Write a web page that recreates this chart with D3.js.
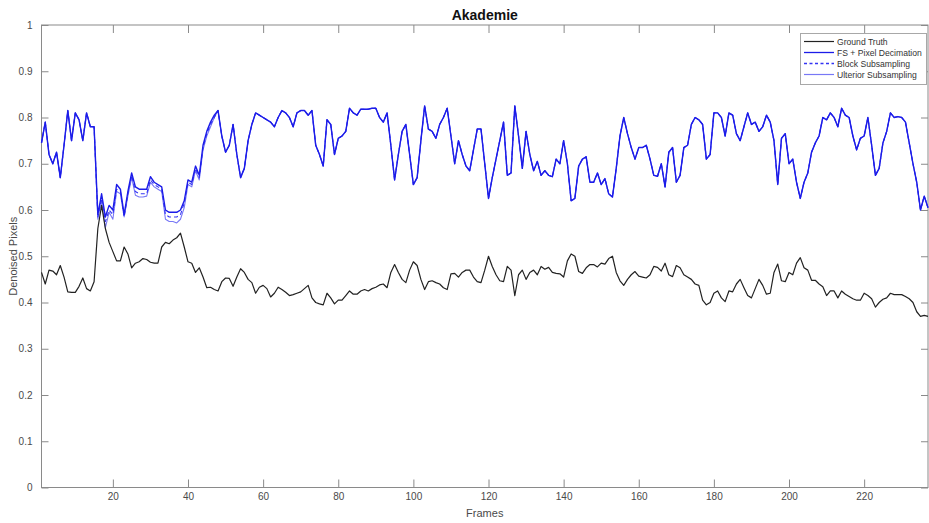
<!DOCTYPE html>
<html>
<head>
<meta charset="utf-8">
<script src="https://cdn.jsdelivr.net/npm/d3@7"></script>
<style>
  html, body { margin: 0; padding: 0; background: #fff; }
  svg { display: block; font-family: "Liberation Sans", Arial, Helvetica, sans-serif; }
</style>
</head>
<body>
<svg id="chart" width="929" height="523"></svg>
<script>
// ---------- data ----------
const chartTitle = "Akademie";
const xLabel = "Frames";
const yLabel = "Denoised Pixels";
const xTicks = [20, 40, 60, 80, 100, 120, 140, 160, 180, 200, 220];
const yTicks = [0, 0.1, 0.2, 0.3, 0.4, 0.5, 0.6, 0.7, 0.8, 0.9, 1];
const seriesNames = ["Ground Truth", "FS + Pixel Decimation", "Block Subsampling", "Ulterior Subsampling"];

const groundTruth = [
  0.465,0.44,0.47,0.468,0.46,0.48,0.455,0.423,0.422,0.422,
  0.435,0.453,0.43,0.425,0.445,0.56,0.61,0.56,0.53,0.51,
  0.49,0.49,0.52,0.505,0.475,0.485,0.488,0.495,0.493,0.487,
  0.485,0.485,0.52,0.53,0.527,0.535,0.54,0.55,0.52,0.488,
  0.485,0.465,0.475,0.455,0.432,0.433,0.428,0.425,0.445,0.453,
  0.452,0.435,0.455,0.473,0.465,0.45,0.443,0.42,0.433,0.437,
  0.43,0.412,0.42,0.433,0.428,0.422,0.415,0.417,0.42,0.423,
  0.43,0.437,0.41,0.40,0.397,0.395,0.42,0.41,0.397,0.405,
  0.405,0.415,0.425,0.418,0.418,0.425,0.428,0.425,0.43,0.433,
  0.438,0.44,0.432,0.465,0.482,0.465,0.45,0.443,0.47,0.488,
  0.48,0.45,0.428,0.445,0.447,0.443,0.44,0.432,0.428,0.462,
  0.463,0.455,0.465,0.47,0.47,0.455,0.445,0.443,0.47,0.50,
  0.478,0.46,0.447,0.445,0.478,0.47,0.415,0.46,0.47,0.45,
  0.465,0.47,0.46,0.478,0.472,0.476,0.465,0.463,0.462,0.455,
  0.49,0.505,0.50,0.467,0.463,0.475,0.482,0.482,0.477,0.485,
  0.483,0.495,0.50,0.465,0.447,0.437,0.45,0.46,0.467,0.457,
  0.455,0.453,0.46,0.478,0.476,0.468,0.485,0.46,0.456,0.48,
  0.475,0.46,0.455,0.45,0.44,0.437,0.405,0.395,0.40,0.42,
  0.425,0.41,0.402,0.425,0.423,0.44,0.45,0.432,0.415,0.41,
  0.43,0.45,0.437,0.418,0.42,0.465,0.483,0.447,0.445,0.465,
  0.46,0.485,0.497,0.475,0.47,0.448,0.448,0.44,0.434,0.415,
  0.425,0.425,0.41,0.425,0.418,0.413,0.408,0.405,0.405,0.42,
  0.415,0.408,0.39,0.40,0.407,0.41,0.42,0.417,0.417,0.417,
  0.413,0.408,0.40,0.38,0.37,0.372,0.37
];

const fsPixelDecimation = [
  0.745,0.79,0.72,0.70,0.725,0.67,0.74,0.815,0.75,0.81,
  0.795,0.75,0.81,0.78,0.78,0.59,0.635,0.585,0.61,0.60,
  0.655,0.645,0.59,0.64,0.68,0.65,0.645,0.645,0.645,0.672,
  0.66,0.655,0.65,0.60,0.595,0.595,0.595,0.60,0.62,0.665,
  0.66,0.695,0.675,0.74,0.77,0.79,0.805,0.815,0.76,0.725,
  0.74,0.785,0.72,0.67,0.69,0.75,0.785,0.81,0.805,0.80,
  0.795,0.79,0.78,0.80,0.815,0.81,0.80,0.78,0.81,0.815,
  0.815,0.805,0.815,0.74,0.72,0.695,0.795,0.785,0.72,0.755,
  0.76,0.77,0.82,0.81,0.805,0.818,0.818,0.818,0.82,0.82,
  0.80,0.79,0.81,0.74,0.665,0.72,0.77,0.785,0.72,0.655,
  0.67,0.75,0.825,0.775,0.77,0.755,0.785,0.80,0.82,0.76,
  0.70,0.75,0.72,0.695,0.685,0.73,0.775,0.775,0.70,0.625,
  0.67,0.71,0.75,0.79,0.675,0.68,0.825,0.76,0.69,0.77,
  0.72,0.685,0.705,0.675,0.685,0.675,0.672,0.71,0.70,0.75,
  0.70,0.62,0.625,0.695,0.71,0.715,0.66,0.66,0.68,0.655,
  0.668,0.635,0.628,0.69,0.76,0.80,0.765,0.735,0.71,0.735,
  0.735,0.74,0.71,0.675,0.673,0.70,0.65,0.725,0.735,0.66,
  0.675,0.735,0.74,0.785,0.80,0.795,0.785,0.71,0.72,0.81,
  0.81,0.80,0.76,0.81,0.805,0.765,0.75,0.78,0.81,0.785,
  0.79,0.77,0.78,0.805,0.79,0.75,0.655,0.755,0.765,0.70,
  0.71,0.66,0.625,0.66,0.68,0.725,0.745,0.76,0.80,0.795,
  0.81,0.80,0.78,0.82,0.805,0.80,0.76,0.73,0.755,0.76,
  0.80,0.74,0.675,0.69,0.745,0.77,0.81,0.80,0.802,0.80,
  0.79,0.745,0.70,0.66,0.60,0.63,0.605
];

const blockSubsampling = [
  0.745,0.79,0.72,0.70,0.725,0.67,0.74,0.815,0.75,0.81,
  0.795,0.75,0.81,0.78,0.78,0.585,0.625,0.575,0.60,0.59,
  0.645,0.64,0.585,0.635,0.675,0.64,0.635,0.635,0.635,0.665,
  0.655,0.65,0.645,0.59,0.585,0.585,0.585,0.59,0.615,0.66,
  0.655,0.69,0.67,0.735,0.765,0.785,0.80,0.815,0.76,0.725,
  0.74,0.785,0.72,0.67,0.69,0.75,0.785,0.81,0.805,0.80,
  0.795,0.79,0.78,0.80,0.815,0.81,0.80,0.78,0.81,0.815,
  0.815,0.805,0.815,0.74,0.72,0.695,0.795,0.785,0.72,0.755,
  0.76,0.77,0.82,0.81,0.805,0.818,0.818,0.818,0.82,0.82,
  0.80,0.79,0.81,0.74,0.665,0.72,0.77,0.785,0.72,0.655,
  0.67,0.75,0.825,0.775,0.77,0.755,0.785,0.80,0.82,0.76,
  0.70,0.75,0.72,0.695,0.685,0.73,0.775,0.775,0.70,0.625,
  0.67,0.71,0.75,0.79,0.675,0.68,0.825,0.76,0.69,0.77,
  0.72,0.685,0.705,0.675,0.685,0.675,0.672,0.71,0.70,0.75,
  0.70,0.62,0.625,0.695,0.71,0.715,0.66,0.66,0.68,0.655,
  0.668,0.635,0.628,0.69,0.76,0.80,0.765,0.735,0.71,0.735,
  0.735,0.74,0.71,0.675,0.673,0.70,0.65,0.725,0.735,0.66,
  0.675,0.735,0.74,0.785,0.80,0.795,0.785,0.71,0.72,0.81,
  0.81,0.80,0.76,0.81,0.805,0.765,0.75,0.78,0.81,0.785,
  0.79,0.77,0.78,0.805,0.79,0.75,0.655,0.755,0.765,0.70,
  0.71,0.66,0.625,0.66,0.68,0.725,0.745,0.76,0.80,0.795,
  0.81,0.80,0.78,0.82,0.805,0.80,0.76,0.73,0.755,0.76,
  0.80,0.74,0.675,0.69,0.745,0.77,0.81,0.80,0.802,0.80,
  0.79,0.745,0.70,0.66,0.60,0.63,0.605
];

const ulteriorSubsampling = [
  0.745,0.79,0.72,0.70,0.725,0.67,0.74,0.815,0.75,0.81,
  0.795,0.75,0.81,0.78,0.78,0.58,0.62,0.562,0.595,0.58,
  0.64,0.635,0.585,0.63,0.67,0.632,0.628,0.628,0.63,0.66,
  0.65,0.645,0.64,0.58,0.575,0.575,0.572,0.58,0.605,0.655,
  0.65,0.685,0.665,0.73,0.76,0.78,0.80,0.815,0.76,0.725,
  0.74,0.785,0.72,0.67,0.69,0.75,0.785,0.81,0.805,0.80,
  0.795,0.79,0.78,0.80,0.815,0.81,0.80,0.78,0.81,0.815,
  0.815,0.805,0.815,0.74,0.72,0.695,0.795,0.785,0.72,0.755,
  0.76,0.77,0.82,0.81,0.805,0.818,0.818,0.818,0.82,0.82,
  0.80,0.79,0.81,0.74,0.665,0.72,0.77,0.785,0.72,0.655,
  0.67,0.75,0.825,0.775,0.77,0.755,0.785,0.80,0.82,0.76,
  0.70,0.75,0.72,0.695,0.685,0.73,0.775,0.775,0.70,0.625,
  0.67,0.71,0.75,0.79,0.675,0.68,0.825,0.76,0.69,0.77,
  0.72,0.685,0.705,0.675,0.685,0.675,0.672,0.71,0.70,0.75,
  0.70,0.62,0.625,0.695,0.71,0.715,0.66,0.66,0.68,0.655,
  0.668,0.635,0.628,0.69,0.76,0.80,0.765,0.735,0.71,0.735,
  0.735,0.74,0.71,0.675,0.673,0.70,0.65,0.725,0.735,0.66,
  0.675,0.735,0.74,0.785,0.80,0.795,0.785,0.71,0.72,0.81,
  0.81,0.80,0.76,0.81,0.805,0.765,0.75,0.78,0.81,0.785,
  0.79,0.77,0.78,0.805,0.79,0.75,0.655,0.755,0.765,0.70,
  0.71,0.66,0.625,0.66,0.68,0.725,0.745,0.76,0.80,0.795,
  0.81,0.80,0.78,0.82,0.805,0.80,0.76,0.73,0.755,0.76,
  0.80,0.74,0.675,0.69,0.745,0.77,0.81,0.80,0.802,0.80,
  0.79,0.745,0.70,0.66,0.60,0.63,0.605
];

// ---------- layout ----------
(function () {
const svg = d3.select("#chart");
const W = 929, H = 523;
const mLeft = 41.5, mRight = 928, mTop = 25, mBottom = 487.5;
const axisColor = "#8a8a8a";
const textColor = "#4a4a4a";

svg.append("rect").attr("width", W).attr("height", H).attr("fill", "#fff");

const x = d3.scaleLinear().domain([1, groundTruth.length]).range([mLeft, mRight]);
const y = d3.scaleLinear().domain([0, 1]).range([mBottom, mTop]);

const gx = svg.append("g").attr("transform", `translate(0,${mBottom})`)
  .call(d3.axisBottom(x).tickValues(xTicks).tickSize(-8).tickPadding(5).tickFormat(d3.format("d")));
const gy = svg.append("g").attr("transform", `translate(${mLeft},0)`)
  .call(d3.axisLeft(y).tickValues(yTicks).tickSize(-7).tickPadding(9).tickFormat(d => d3.format("~g")(d)));
const gxt = svg.append("g").attr("transform", `translate(0,${mTop})`)
  .call(d3.axisTop(x).tickValues(xTicks).tickSize(-8).tickFormat(""));
const gyr = svg.append("g").attr("transform", `translate(${mRight},0)`)
  .call(d3.axisRight(y).tickValues(yTicks).tickSize(-7).tickFormat(""));

[gx, gy, gxt, gyr].forEach(g => {
  g.select(".domain").remove();
  g.selectAll(".tick line").attr("stroke", axisColor).attr("stroke-width", 1);
  g.selectAll(".tick text").attr("fill", textColor).attr("font-size", 10)
    .attr("font-family", "'Liberation Sans', Arial, sans-serif");
});

svg.append("rect")
  .attr("x", mLeft).attr("y", mTop)
  .attr("width", mRight - mLeft).attr("height", mBottom - mTop)
  .attr("fill", "none").attr("stroke", axisColor).attr("stroke-width", 1);

const line = d3.line().x((d, i) => x(i + 1)).y(d => y(d));

const styles = [
  { data: ulteriorSubsampling, color: "#7878f6", width: 1.1, dash: null },
  { data: blockSubsampling, color: "#3434f4", width: 1.1, dash: "4,3" },
  { data: fsPixelDecimation, color: "#1c1ce8", width: 1.4, dash: null },
  { data: groundTruth, color: "#222222", width: 1.2, dash: null }
];
styles.forEach(s => {
  svg.append("path").datum(s.data)
    .attr("d", line)
    .attr("fill", "none")
    .attr("stroke", s.color)
    .attr("stroke-width", s.width)
    .attr("stroke-linejoin", "round")
    .attr("stroke-dasharray", s.dash);
});

svg.append("text").attr("x", (mLeft + mRight) / 2).attr("y", 20)
  .attr("text-anchor", "middle").attr("font-size", 14).attr("font-weight", "bold")
  .attr("fill", "#111").text(chartTitle);
svg.append("text").attr("x", (mLeft + mRight) / 2).attr("y", 517)
  .attr("text-anchor", "middle").attr("font-size", 11).attr("fill", textColor).text(xLabel);
svg.append("text").attr("transform", `translate(17,${(mTop + mBottom) / 2}) rotate(-90)`)
  .attr("text-anchor", "middle").attr("font-size", 11).attr("fill", textColor).text(yLabel);

const legendItems = [
  { name: seriesNames[0], color: "#222222", dash: null, width: 1.2 },
  { name: seriesNames[1], color: "#1c1ce8", dash: null, width: 1.3 },
  { name: seriesNames[2], color: "#3434f4", dash: "3,2.5", width: 1.3 },
  { name: seriesNames[3], color: "#7878f6", dash: null, width: 1.2 }
];
const lg = svg.append("g");
lg.append("rect").attr("x", 800.5).attr("y", 33.5).attr("width", 126).attr("height", 51)
  .attr("fill", "#fff").attr("stroke", "#a8a8a8").attr("stroke-width", 1);
legendItems.forEach((it, i) => {
  const yy = 41.5 + i * 11;
  lg.append("line").attr("x1", 804).attr("x2", 834).attr("y1", yy).attr("y2", yy)
    .attr("stroke", it.color).attr("stroke-width", it.width).attr("stroke-dasharray", it.dash);
  lg.append("text").attr("x", 837).attr("y", yy + 3).attr("font-size", 8.6)
    .attr("fill", "#333").text(it.name);
});
})();
</script>
</body>
</html>
